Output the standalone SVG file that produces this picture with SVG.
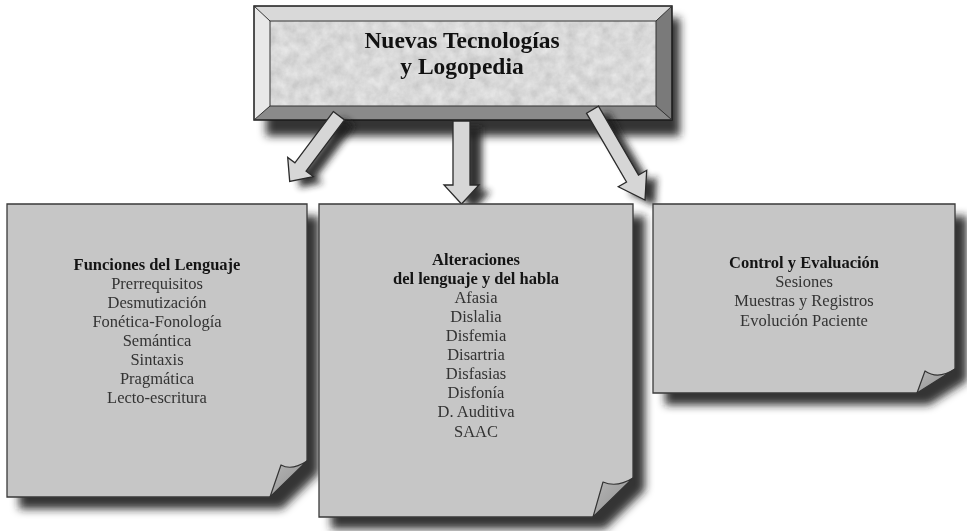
<svg xmlns="http://www.w3.org/2000/svg" width="967" height="531" viewBox="0 0 967 531">
<defs>
<filter id="blur" x="-20%" y="-20%" width="140%" height="140%"><feGaussianBlur stdDeviation="4.5"/></filter>
<filter id="blurS" x="-30%" y="-30%" width="160%" height="160%"><feGaussianBlur stdDeviation="3.5"/></filter>
<filter id="tex" x="0" y="0" width="1" height="1">
<feTurbulence type="fractalNoise" baseFrequency="0.09" numOctaves="4" seed="4" result="n"/>
<feColorMatrix in="n" type="matrix" values="0.3 0 0 0 0.54  0.3 0 0 0 0.54  0.3 0 0 0 0.54  0 0 0 0 1" result="g"/>
<feComposite in="g" in2="SourceGraphic" operator="in"/>
</filter>
<linearGradient id="flap" x1="0" y1="0" x2="1" y2="1">
<stop offset="0" stop-color="#b8b8b8"/><stop offset="1" stop-color="#8c8c8c"/>
</linearGradient>
<style>
.page{fill:#c6c6c6;stroke:#3a3a3a;stroke-width:1.3}
.flap{fill:url(#flap);stroke:#333;stroke-width:1.2;stroke-linejoin:round}
.shadow{fill:#1e1e1e;opacity:0.9}
.arrow{fill:#d6d6d6;stroke:#2a2a2a;stroke-width:1.3;stroke-linejoin:miter}
.t{font-family:"Liberation Serif","Times New Roman",serif;text-anchor:middle;font-size:16.5px;fill:#333}
.b{font-weight:bold;fill:#141414}
.title{font-family:"Liberation Serif","Times New Roman",serif;text-anchor:middle;font-size:23.5px;font-weight:bold;fill:#111}
</style>
</defs>
<rect width="967" height="531" fill="#fff"/>

<!-- shadows -->
<g id="shadows" filter="url(#blur)">
<rect class="shadow" x="266" y="18" width="414" height="118"/>
<path class="shadow" d="M19,216 H319 V473 L282,509 H19 Z"/>
<path class="shadow" d="M331,216 H645 V490 L605,529 H331 Z"/>
<path class="shadow" d="M665,216 H967 V381 L929,405 H665 Z"/>
</g>

<!-- title node -->
<g id="node-title">
<polygon points="254,6 672,6 656,21 270,21" fill="#d9d9d9"/>
<polygon points="254,6 270,21 270,106 254,120" fill="#e8e8e8"/>
<polygon points="254,120 270,106 656,106 672,120" fill="#8a8a8a"/>
<polygon points="672,6 672,120 656,106 656,21" fill="#7a7a7a"/>
<rect x="270" y="21" width="386" height="85" fill="#b0b0b0"/>
<rect x="270" y="21" width="386" height="85" fill="#b0b0b0" filter="url(#tex)"/>
<rect x="270" y="21" width="386" height="85" fill="none" stroke="#333" stroke-width="1"/>
<rect x="254" y="6" width="418" height="114" fill="none" stroke="#1a1a1a" stroke-width="1.5"/>
<path d="M254,6 L270,21 M672,6 L656,21 M254,120 L270,106 M672,120 L656,106" stroke="#333" stroke-width="1"/>
<text class="title" x="462" y="48">Nuevas Tecnologías</text>
<text class="title" x="462" y="74">y Logopedia</text>
</g>

<!-- connectors -->
<g id="connectors">
<g filter="url(#blurS)" fill="#1e1e1e" opacity="0.9">
<polygon points="343.3,117.6 354.5,126 316.1,177.2 323.3,182.6 299.7,187.4 297.7,163.4 304.9,168.8"/>
<polygon points="465,127 482,127 482,191 491,191 473.5,210 456,191 465,191"/>
<polygon points="596.5,119.2 608.5,112.2 648.5,181 656.7,176.3 655,206 628.3,192.8 636.5,188"/>
</g>
<polygon id="arrow-left" class="arrow" points="333.3,111.6 344.5,120 306.1,171.2 313.3,176.6 289.7,181.4 287.7,157.4 294.9,162.8"/>
<polygon id="arrow-middle" class="arrow" points="453,121 470,121 470,185 479,185 461.5,204 444,185 453,185"/>
<polygon id="arrow-right" class="arrow" points="586.5,113.2 598.5,106.2 638.5,175 646.7,170.3 645,200 618.3,186.8 626.5,182"/>
</g>

<!-- left node -->
<g id="node-funciones">
<path class="page" d="M7,204 H307 V461 L270,497 H7 Z"/>
<path class="flap" d="M307,461 Q292,471 281,465 L270,497 Z"/>
<text class="t b" x="157" y="270">Funciones del Lenguaje</text>
<text class="t" x="157" y="289">Prerrequisitos</text>
<text class="t" x="157" y="308">Desmutización</text>
<text class="t" x="157" y="327">Fonética-Fonología</text>
<text class="t" x="157" y="346">Semántica</text>
<text class="t" x="157" y="365">Sintaxis</text>
<text class="t" x="157" y="384">Pragmática</text>
<text class="t" x="157" y="403">Lecto-escritura</text>
</g>

<!-- middle node -->
<g id="node-alteraciones">
<path class="page" d="M319,204 H633 V478 L593,517 H319 Z"/>
<path class="flap" d="M633,478 Q617,488 603,482 L593,517 Z"/>
<text class="t b" x="476" y="265">Alteraciones</text>
<text class="t b" x="476" y="284">del lenguaje y del habla</text>
<text class="t" x="476" y="303">Afasia</text>
<text class="t" x="476" y="322">Dislalia</text>
<text class="t" x="476" y="341">Disfemia</text>
<text class="t" x="476" y="360">Disartria</text>
<text class="t" x="476" y="379">Disfasias</text>
<text class="t" x="476" y="398">Disfonía</text>
<text class="t" x="476" y="417">D. Auditiva</text>
<text class="t" x="476" y="437">SAAC</text>
</g>

<!-- right node -->
<g id="node-control">
<path class="page" d="M653,204 H955 V369 L917,393 H653 Z"/>
<path class="flap" d="M955,369 Q938,380 925,371 L917,393 Z"/>
<text class="t b" x="804" y="268">Control y Evaluación</text>
<text class="t" x="804" y="287">Sesiones</text>
<text class="t" x="804" y="306">Muestras y Registros</text>
<text class="t" x="804" y="326">Evolución Paciente</text>
</g>
</svg>
